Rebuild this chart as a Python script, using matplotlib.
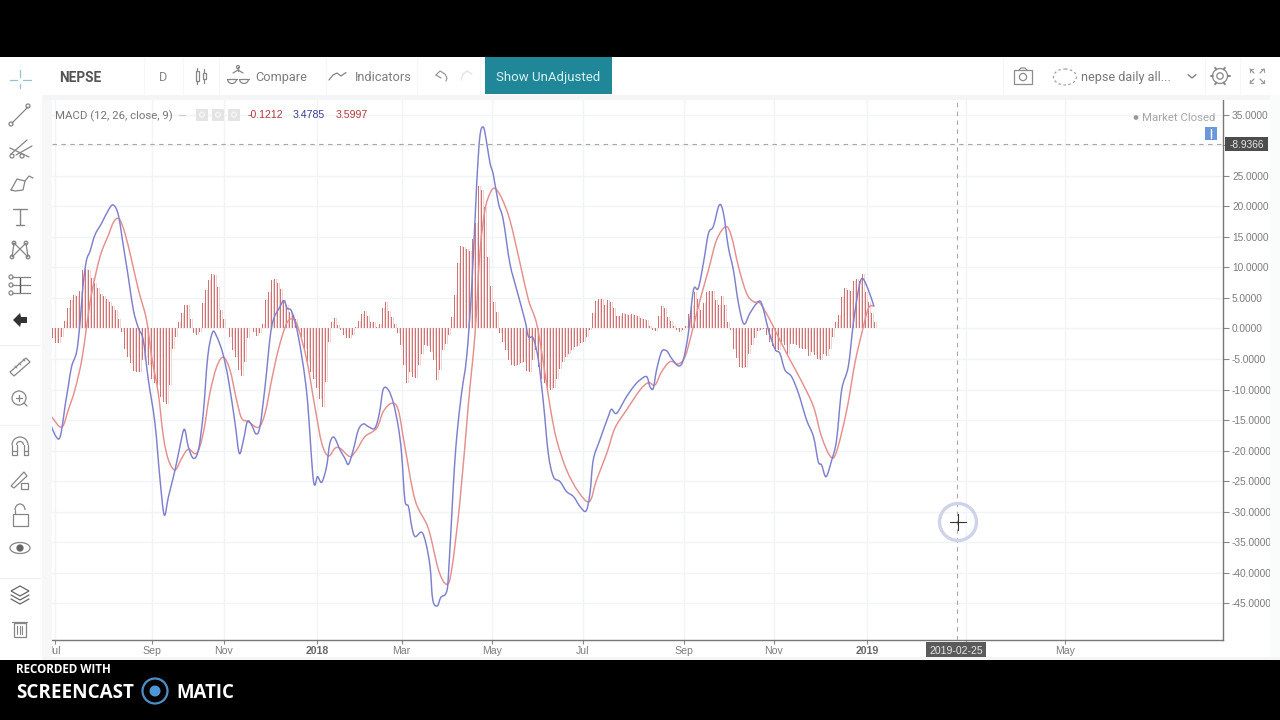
import numpy as np
import matplotlib
matplotlib.use("Agg")
from matplotlib import pyplot as plt
from matplotlib.patches import Circle, Rectangle, Polygon, Ellipse, Arc, PathPatch
from matplotlib.path import Path

# one x unit is one trading session on the chart
hist_vals = [
    -1.5, -2.3, -2.3, -1.4, 1.3, 3.4, 4.6, 5.5, 5.4, 6.2,
    9.6, 9.7, 9.6, 8.2, 7.4, 6.6, 5.7, 5.3, 4.9, 4.4,
    3.6, 3.0, 1.6, -0.5, -3.3, -4.6, -5.7, -7.0, -7.2, -7.1,
    -5.2, -4.9, -6.0, -8.2, -9.0, -9.3, -11.2, -12.0, -12.4, -9.3,
    -3.3, -1.4, 1.1, 2.6, 3.8, 3.8, 1.6, -0.8, -1.1, -0.5,
    4.1, 6.3, 7.9, 8.9, 8.7, 6.8, 3.0, 1.6, 0.0,
    -1.4, -3.6, -4.6, -6.8, -7.8, -5.5, -1.6, 0.0, -0.5, -1.2,
    -0.7, 0.8, 4.6, 6.0, 7.9, 8.1, 7.4, 6.4, 4.6, 3.8,
    2.7, 2.2, 1.5, -0.3, -1.4, -3.3, -5.5, -7.1, -8.2, -9.8,
    -11.5, -12.8, -8.7, -2.2,
    1.1, 1.7, 0.5, -0.3, -1.0, -1.5, -1.6, -1.0, 0.2, 1.2,
    2.3, 2.8, 2.1, 1.1, 1.0, 0.3, 0.8, 3.4, 4.4, 2.8,
    1.9, 0.8, -0.8, -2.7, -6.0, -9.0, -7.1, -7.9, -8.1, -6.0,
    -4.1, -2.7, -2.8, -3.9, -5.2, -8.5, -6.8, -3.6, -2.5, -1.1,
    1.9, 5.5, 10.7, 13.5, 13.4, 13.0, 12.7, 14.6, 17.2, 23.4,
    22.6, 19.9, 11.7, 7.0, 4.4, 2.7, -0.8, -2.2, -3.6, -5.2,
    -5.9, -6.1, -5.9, -5.7, -5.5, -7.0, -7.1, -5.2, -3.6, -6.3,
    -8.2, -9.0, -9.8, -10.1, -9.7, -8.2, -6.6, -5.5, -4.6, -4.1,
    -3.6, -3.0, -2.8, -2.3, -2.2, -1.4, -0.3, 2.5, 4.5, 4.9,
    4.9, 3.9, 4.6, 4.4, 3.3, 2.1, 2.1, 2.6, 2.4, 2.2,
    2.3, 2.2, 2.0, 1.7, 1.5, 1.4, 0.4, -0.3, -0.4, 2.1,
    3.6, 3.4, 1.9, 1.2, 0.4, -0.3, -0.5, -0.2, 0.4, 2.3,
    3.8, 6.0, 4.8, 3.0, 4.1, 6.0, 6.2, 6.2, 4.6, 3.8,
    5.3, 3.9, 1.1, -0.3, -3.3, -4.9, -6.3, -6.4, -6.3, -4.1,
    -2.7, -1.5, -0.4, -0.2, -0.1, -1.1, -2.2, -2.8, -3.4, -3.6,
    -2.2, -2.7, -4.1, -2.5, -2.6, -2.7, -3.2, -3.4, -3.4, -4.5,
    -3.9, -4.3, -5.0, -5.2, -4.1, -4.5, -3.3, -1.4, 1.0, 2.2,
    5.2, 6.6, 6.3, 6.1, 7.8, 8.1, 7.7, 9.0, 5.9, 4.3,
    2.5, 1.1,
]

macd_x = [
    -0.6, 0.8, 2.1, 3.0, 4.1, 5.2, 6.3, 8.0, 9.1, 10.2, 11.3, 12.4, 14.1, 16.3, 18.6, 20.2,
    21.9, 23.6, 25.2, 26.9, 28.6, 30.2, 31.9, 34.1, 35.8, 37.2, 38.6, 40.8, 42.4, 43.9, 45.2,
    46.9, 48.6, 50.2, 51.7, 53.3, 54.7, 56.7, 58.6, 60.8, 62.2, 63.6, 64.9, 66.3, 67.8, 69.1,
    70.8, 73.0, 75.8, 77.1, 78.2, 79.7, 81.9, 84.7, 86.9, 88.3, 89.7, 91.3, 92.4, 93.8,
    95.8, 97.4, 98.6, 100.2, 101.9, 103.6, 105.2, 107.4, 108.9, 110.2, 111.9, 113.6, 115.2,
    116.3, 117.4, 118.6, 119.7, 120.8, 123.0, 124.4, 125.8, 126.7, 128.2, 129.4, 131.1, 131.9,
    133.6, 134.7, 136.3, 138.0, 139.7, 141.3, 142.4, 143.6, 144.7, 145.8, 146.9, 148.6, 150.2,
    152.4, 154.7, 157.4, 158.6, 160.2, 161.9, 163.6, 165.2, 166.9, 169.1, 171.3, 173.6, 175.8,
    177.8, 179.1, 180.2, 182.4, 185.2, 186.3, 188.0, 191.3, 194.1,
    195.8, 198.0, 199.1, 200.2, 201.3, 203.0, 204.7, 206.3, 208.6, 210.2, 211.9, 213.6, 215.2,
    216.9, 218.6, 220.2, 222.2, 223.6, 225.2, 226.9, 228.6, 230.4, 232.4, 234.7, 236.3, 238.6,
    240.8, 242.4, 244.1, 246.3, 248.6, 251.3, 253.6, 255.2, 256.3, 257.8, 259.7, 261.3, 263.0,
    265.2, 266.9, 268.6, 269.9, 271.9, 273.8,
]
macd_y = [
    -15.8, -17.44, -18.09, -16.62, -12.8, -9.52, -6.25, -3.79, 0.85, 7.4, 11.22, 12.58, 15.32, 17.22, 19.41, 20.23,
    18.59, 13.4, 8.49, 3.03, 0.03, -1.88, -8.43, -15.53, -24.81, -30.54, -27.54, -23.17, -19.35, -16.51, -19.35,
    -21.26, -19.89, -13.89, -4.61, -0.63, -1.34, -4.06, -8.43, -15.53, -20.44, -18.26, -15.25, -15.8, -17.27, -16.07,
    -9.52, 0.3, 3.58, 4.56, 3.3, 2.76, -1.34, -10.61, -24.81, -24.26, -25.19, -22.62, -18.8, -17.82,
    -19.89, -21.25, -22.24, -19.89, -16.61, -15.63, -16.07, -16.34, -13.88, -9.95, -10.06, -12.25, -16.07,
    -20.44, -28.08, -29.17, -32.44, -34.08, -33.37, -35.17, -38.99, -44.45, -45.44, -44.02, -43.36, -40.63,
    -25.35, -17.71, -10.61, -4.61, 6.86, 23.23, 31.42, 32.95, 30.33, 27.05, 25.15, 20.5, 17.77,
    10.68, 6.31, 1.4, -1.33, -1.6, -5.15, -12.25, -20.44, -24.26, -25.07, -26.71, -27.53, -29.17,
    -29.88, -26.99, -21.53, -18.25, -14.43, -13.23, -13.88, -11.16, -9.25,
    -8.43, -7.89, -9.52, -9.8, -6.8, -3.79, -3.69, -4.89, -6.14, -5.16, -0.79, 6.3, 6.58,
    10.67, 15.58, 16.68, 20.22, 18.86, 13.4, 9.58, 4.12, 0.74, 2.48, 4.12, 4.12, -0.25,
    -3.41, -4.07, -6.8, -7.89, -10.62, -14.98, -17.71, -21.81, -22.35, -24.26, -21.53, -18.26, -10.07,
    -6.25, 0.85, 6.3, 8.21, 6.3, 3.58,
]

signal_x = [
    -0.6, 3.0, 5.2, 7.4, 9.7, 11.3, 13.0, 15.8, 18.6, 20.4, 22.2, 24.1, 26.3, 28.6, 31.3, 33.0,
    35.2, 36.9, 38.6, 40.8, 43.0, 45.2, 48.0, 50.2, 52.4, 54.7, 56.9, 59.1, 61.3, 63.0, 65.2,
    68.6, 70.8, 73.0, 75.2, 78.0, 80.2, 81.9, 84.7, 87.4, 89.7, 91.9, 94.1,
    95.8, 99.1, 101.3, 104.1, 108.0, 110.2, 113.0, 115.2, 117.4, 120.8, 125.2, 128.6, 131.3,
    133.0, 135.8, 138.6, 140.8, 142.4, 144.1, 145.8, 147.4, 149.7, 152.4, 155.8, 158.6, 161.3,
    163.6, 165.8, 168.0, 171.3, 175.2, 178.9, 181.3, 184.7, 187.4, 191.3, 195.8,
    198.6, 200.8, 203.0, 205.8, 208.6, 210.8, 213.0, 215.8, 218.6, 221.3, 224.4, 226.3, 228.6,
    231.3, 233.6, 235.8, 239.1, 242.4, 245.8, 249.7, 253.6, 256.3, 259.3, 261.3, 264.7, 267.4,
    269.7, 271.9, 273.8,
]
signal_y = [
    -14.33, -16.18, -13.34, -10.07, -5.16, 0.3, 5.76, 11.77, 15.32, 17.5, 17.93, 15.59, 11.22, 6.31, 1.39, -4.61,
    -10.61, -17.71, -21.53, -23.17, -21.26, -19.78, -20.44, -17.16, -10.61, -6.25, -4.72, -6.79, -11.71, -14.71, -15.25,
    -16.18, -13.89, -8.43, -3.52, 0.85, 1.5, 0.03, -5.16, -12.8, -18.8, -20.88, -19.62,
    -19.62, -20.98, -19.89, -17.71, -16.34, -13.61, -12.25, -13.34, -19.34, -28.08, -32.72, -39.54, -41.89,
    -39.54, -28.08, -12.25, -0.78, 12.32, 19.41, 22.14, 22.96, 21.32, 17.77, 10.68, 4.67, 0.85,
    -5.7, -12.79, -18.25, -23.16, -26.71, -28.35, -24.8, -20.44, -16.34, -13.34, -10.07,
    -8.87, -9.25, -7.07, -5.43, -5.81, -4.61, -0.79, 4.67, 9.58, 14.49, 16.68, 15.04, 10.13,
    5.76, 4.39, 4.12, 1.39, -1.88, -5.16, -8.71, -12.8, -17.71, -20.99, -20.17, -13.35, -5.7,
    -0.79, 3.3, 3.74,
]

# the March tick sits under the crosshair date box, so it carries no text
x_tick_pos = [0.8, 33.0, 57.1, 88.1, 116.3, 146.3, 176.7, 210.3, 240.3, 271.4, 304.4, 337.3]
x_tick_labels = ["Jul", "Sep", "Nov", "2018", "Mar", "May", "Jul", "Sep", "Nov", "2019", "", "May"]
y_tick_vals = [35, 30, 25, 20, 15, 10, 5, 0, -5, -10, -15, -20, -25, -30, -35, -40, -45]

cross_x = 301.4
cross_y = 30.15

TXT = "#7c7c7c"
ICON = "#858585"
UI_FONT = ["Roboto", "DejaVu Sans"]
AXIS_FONT = ["Liberation Sans", "DejaVu Sans"]


def curve_through(xs, ys):
    # bezier path passing through every point, the charting lib draws its lines rounded
    pts = np.column_stack([xs, ys])
    tang = np.gradient(pts, axis=0) / 3.0
    verts = [pts[0]]
    codes = [Path.MOVETO]
    for i in range(len(pts) - 1):
        verts += [pts[i] + tang[i], pts[i + 1] - tang[i + 1], pts[i + 1]]
        codes += [Path.CURVE4, Path.CURVE4, Path.CURVE4]
    return Path(verts, codes)


fig = plt.figure(figsize=(12.8, 7.2), dpi=100, facecolor="white")

# price pane, placed on the pixel grid of the figure
ax = fig.add_axes([52 / 1280, 80 / 720, 1171 / 1280, 540 / 720], zorder=1)
ax.set_xlim(-0.22, 390.11)
ax.set_ylim(-51.02, 37.42)

ax.bar(np.arange(len(hist_vals)), hist_vals, width=0.42, color="#cf7474", linewidth=0, zorder=3)
ax.bar(np.arange(len(hist_vals)) + 0.5, hist_vals, width=0.4, color="#f1d5d5", linewidth=0, zorder=2)
ax.add_patch(PathPatch(curve_through(signal_x, signal_y), fill=False, edgecolor="#e58f8f", linewidth=1.05, zorder=4))
ax.add_patch(PathPatch(curve_through(macd_x, macd_y), fill=False, edgecolor="#7f80cc", linewidth=1.05, zorder=5))

ax.set_yticks(y_tick_vals)
ax.set_yticklabels(["" if v == 30 else f"{v:.4f}" for v in y_tick_vals],
                   fontsize=7.3, color=TXT, family=AXIS_FONT)
ax.set_xticks(x_tick_pos)
ax.set_xticklabels(x_tick_labels, fontsize=7.6, color=TXT, family=AXIS_FONT)
for lab in ax.get_xticklabels():
    if lab.get_text() in ("2018", "2019"):
        lab.set_fontweight("bold")
        lab.set_color("#666666")
ax.yaxis.tick_right()
ax.tick_params(axis="y", length=4, width=0.8, color="#888888", pad=2.5)
ax.tick_params(axis="x", length=3, width=0.8, color="#888888", pad=1.2)
ax.grid(True, color="#f1f4f7", linewidth=1.0, zorder=0)
ax.set_axisbelow(True)
for side in ("left", "top"):
    ax.spines[side].set_visible(False)
for side in ("right", "bottom"):
    ax.spines[side].set_color("#777777")
    ax.spines[side].set_linewidth(1.0)

# crosshair
ax.axvline(cross_x, color="#a8a8a8", linewidth=0.8, dashes=(4, 4), zorder=6)
ax.axhline(cross_y, color="#a8a8a8", linewidth=0.8, dashes=(4, 4), zorder=6)

# chrome and toolbars live in a full-figure axes measured in pixels
ui = fig.add_axes([0, 0, 1, 1], zorder=2)
ui.set_xlim(0, 1280)
ui.set_ylim(720, 0)
ui.axis("off")
ui.patch.set_alpha(0)


def rect(x0, y0, x1, y1, color, z=1, **kw):
    ui.add_patch(Rectangle((x0, y0), x1 - x0, y1 - y0, facecolor=color, edgecolor="none", zorder=z, **kw))


def line(xs, ys, color=ICON, lw=0.9, z=3, **kw):
    ui.plot(xs, ys, color=color, linewidth=lw, zorder=z, solid_capstyle="round", **kw)


def ring(x, y, r, color=ICON, lw=0.9, z=3, fc="none"):
    ui.add_patch(Circle((x, y), r, facecolor=fc, edgecolor=color, linewidth=lw, zorder=z))


def label(x, y, s, size=9.2, color=TXT, ha="left", weight="normal", family=UI_FONT, z=4):
    ui.text(x, y, s, fontsize=size, color=color, ha=ha, va="center_baseline", fontweight=weight,
            family=family, zorder=z)


# recording bands and pane margins
rect(0, 0, 1280, 57, "black", z=5)
rect(0, 660, 1280, 720, "black", z=5)
rect(0, 57, 42, 660, "white")
rect(42, 57, 52, 660, "#f5f7f8")
rect(42, 57, 1280, 95, "white")
rect(42, 95, 1280, 100, "#f3f5f6")
rect(1270, 95, 1280, 660, "#fafbfb")
rect(42, 657, 1280, 660, "#f3f5f6")
line([0, 40], [345, 345], color="#eeeeee", lw=0.8)
line([0, 40], [578, 578], color="#eeeeee", lw=0.8)
line([0, 40], [425, 425], color="#f4f4f4", lw=0.8)
for sep_x in (144, 183, 219, 326, 417, 480, 1003, 1205, 1240):
    line([sep_x, sep_x], [58, 94], color="#f6f7f8", lw=0.8)

# top toolbar
label(59, 76, "NEPSE", size=9.8, color="#555555", weight="bold")
label(163.5, 76, "D", size=9.2, ha="center", color="#888888")
ui.add_patch(Rectangle((195.5, 71), 3.5, 10, fill=False, edgecolor=ICON, linewidth=0.9, zorder=3))
ui.add_patch(Rectangle((202.5, 73), 3.5, 6, fill=False, edgecolor=ICON, linewidth=0.9, zorder=3))
line([197.2, 197.2], [68, 71])
line([197.2, 197.2], [81, 84])
line([204.2, 204.2], [69, 73])
line([204.2, 204.2], [79, 83])
line([233, 238, 243], [73, 70, 73])
line([238, 238], [67, 71])
ring(238, 67, 1.5)
ui.add_patch(Arc((232, 79), 9, 9, theta1=0, theta2=180, edgecolor=ICON, linewidth=0.9, zorder=3))
ui.add_patch(Arc((244, 79), 9, 9, theta1=0, theta2=180, edgecolor=ICON, linewidth=0.9, zorder=3))
line([227.5, 236.5], [79, 79])
line([239.5, 248.5], [79, 79])
label(255, 76, "Compare", size=9.2)
line([329, 333, 337, 341, 346], [80, 75, 73, 76, 72.5])
label(355, 76, "Indicators", size=9.2)
line([436, 440, 445, 447, 446], [75, 71, 74, 78, 81], color="#999999")
line([436, 441], [75, 78], color="#999999")
line([472, 467, 463, 461], [74, 71, 74, 80], color="#e2e2e2")
rect(485, 57, 612, 94, "#1f8798")
label(548.5, 76, "Show UnAdjusted", size=9.5, color="#d9f0f3", ha="center")

# right-hand toolbar
ui.add_patch(Rectangle((1014, 70), 18, 14, fill=False, edgecolor="#8c8c8c", linewidth=0.9, zorder=3))
ring(1023, 77, 3.6, color="#8c8c8c")
line([1019, 1021, 1025, 1027], [70, 68, 68, 70], color="#8c8c8c")
ui.add_patch(Ellipse((1065, 77), 23, 16, fill=False, edgecolor="#a0a0a0", linewidth=0.9,
                     linestyle=(0, (2, 2)), zorder=3))
label(1081, 76, "nepse daily all...", size=9.1, color="#777777")
line([1188, 1192, 1196], [74.5, 78, 74.5], color="#777777")
ring(1220, 76, 3.2, color="#858585", lw=0.9)
ring(1220, 76, 7.5, color="#858585", lw=0.9)
for a in np.deg2rad(np.arange(0, 360, 60)):
    line([1220 + 7.5 * np.cos(a), 1220 + 9.5 * np.cos(a)], [76 + 7.5 * np.sin(a), 76 + 9.5 * np.sin(a)],
         color="#858585", lw=1.4)
for sx, sy in ((-1, -1), (1, -1), (-1, 1), (1, 1)):
    cx, cy = 1257 + 5 * sx, 76 + 5 * sy
    line([cx + 2 * sx, cx - 2 * sx], [cy + 2 * sy, cy - 2 * sy], color="#9a9a9a")
    line([cx + 2 * sx, cx + 2 * sx, cx - 1 * sx], [cy - 1 * sy, cy + 2 * sy, cy + 2 * sy], color="#9a9a9a", lw=0.8)

# left toolbar
TEAL = "#8fc3cf"
line([10, 17], [80, 80], color=TEAL)
line([23, 31], [80, 80], color=TEAL)
line([20, 20], [70, 77], color=TEAL)
line([20, 20], [84, 88], color=TEAL)
line([12, 28], [123, 107])
ring(11, 124, 2)
ring(28, 106, 2)
line([11, 27], [154, 140])
line([16, 32], [155, 146])
line([10, 29], [148, 157])
ring(12, 156, 2)
ring(22, 156, 2)
line([11, 17, 25, 23, 15, 11], [190, 179, 181, 190, 191, 190])
line([25, 29, 33], [181, 176, 178])
line([13, 27], [209, 209], lw=1.0)
line([20, 20], [209, 225], lw=1.0)
line([16, 24], [225, 225], lw=1.0)
line([14, 12, 20, 28, 26, 20, 14], [243, 257, 249, 257, 243, 249, 243])
for px, py in ((14, 243), (26, 243), (12, 257), (28, 257)):
    ring(px, py, 1.8)
for sy in (277, 285, 293):
    line([12, 30], [sy, sy])
    ring(11, sy, 2)
line([20, 20], [278, 292], lw=1.0, color="#555555")
ui.add_patch(Polygon([[13, 320], [20, 313], [21, 317], [27, 317], [27, 323], [21, 323], [20, 327]],
                     facecolor="#333333", edgecolor="none", zorder=3))
ui.add_patch(Polygon([[10, 372], [26, 358], [30, 362], [14, 376]], fill=False, edgecolor=ICON, linewidth=0.9,
                     zorder=3))
for tx, ty in ((15, 366), (19, 363), (23, 359)):
    line([tx, tx + 2], [ty, ty + 2], lw=0.7)
ring(19, 398, 7)
line([24, 27], [403, 406])
line([16, 22], [398, 398])
line([19, 19], [395, 401])
# magnet
ui.add_patch(Arc((20, 445), 16, 16, theta1=180, theta2=360, edgecolor=ICON, linewidth=0.9, zorder=3))
ui.add_patch(Arc((20, 445), 7, 7, theta1=180, theta2=360, edgecolor=ICON, linewidth=0.9, zorder=3))
line([12, 12, 16.5, 16.5], [445, 455, 455, 445])
line([28, 28, 23.5, 23.5], [445, 455, 455, 445])
line([12, 16.5], [451, 451])
line([23.5, 28], [451, 451])
ui.add_patch(Polygon([[11, 486], [24, 472], [27, 476], [14, 488]], fill=False, edgecolor=ICON, linewidth=0.9,
                     zorder=3))
ui.add_patch(Rectangle((21, 483), 7, 6, fill=False, edgecolor=ICON, linewidth=0.9, zorder=3))
ui.add_patch(Rectangle((12.5, 514), 15, 12, fill=False, edgecolor=ICON, linewidth=0.9, zorder=3))
ui.add_patch(Arc((20, 510), 10, 12, theta1=180, theta2=360, edgecolor=ICON, linewidth=0.9, zorder=3))
line([15, 15], [510, 514])
ui.add_patch(Ellipse((20, 548), 20, 11, fill=False, edgecolor=ICON, linewidth=0.9, zorder=3))
ring(20, 548, 3, color="#666666", fc="#666666")
ui.add_patch(Polygon([[11, 591], [20, 586], [29, 591], [20, 596]], fill=False, edgecolor="#666666", linewidth=0.9,
                     zorder=3))
line([11, 20, 29], [595, 600, 595], color="#666666")
line([11, 20, 29], [599, 604, 599], color="#666666")
ui.add_patch(Rectangle((13.5, 623), 12, 14, fill=False, edgecolor=ICON, linewidth=0.9, zorder=3))
line([12, 27], [622, 622])
for tx in (17, 19.5, 22):
    line([tx, tx], [626, 634], lw=0.8)

# legend over the pane
label(55, 114.5, "MACD (12, 26, close, 9)", size=8.2, color="#777777")
line([179, 185], [114.5, 114.5], color="#cccccc", lw=0.8)
for bx in (202, 218, 234):
    rect(bx - 6, 109, bx + 6, 120.5, "#e4e4e4", z=3)
    ring(bx, 114.7, 2.4, color="#f5f5f5", lw=1.0, z=4)
label(248, 114.5, "-0.1212", size=7.6, color="#b33a3a", family=AXIS_FONT)
label(293, 114.5, "3.4785", size=7.6, color="#3b3b96", family=AXIS_FONT)
label(336, 114.5, "3.5997", size=7.6, color="#b33a3a", family=AXIS_FONT)

ring(1136, 117.5, 2.4, color="#999999", fc="#999999", lw=0)
label(1142, 117, "Market Closed", size=8.2, color="#a6a6a6")
rect(1205, 127, 1217, 140, "#6b97dc", z=3)
line([1211, 1211], [129, 138], color="white", lw=1.0, z=4)

# crosshair read-outs
rect(1225, 137, 1268, 151, "#4d4d4d", z=3)
label(1247, 144, "-8.9366", size=7.3, color="#e6e6e6", ha="center", family=AXIS_FONT)
rect(926, 642, 986, 657, "#5a5a5a", z=3)
label(956, 649.5, "2019-02-25", size=7.6, color="#e6e6e6", ha="center", family=AXIS_FONT)

# mouse pointer highlight
ring(958, 522, 18.5, color="#cfd3ea", lw=2.4)
line([950, 966], [522, 522], color="#333333", lw=0.8)
line([958, 958], [514, 530], color="#333333", lw=0.8)

# recorder watermark
WM_FONT = ["Open Sans", "DejaVu Sans"]
label(16, 668, "RECORDED WITH", size=8.4, color="white", weight="bold", family=WM_FONT, z=6)
label(16, 691, "SCREENCAST", size=13.6, color="white", weight="bold", family=WM_FONT, z=6)
label(176, 691, "MATIC", size=13.4, color="white", weight="bold", family=WM_FONT, z=6)
ring(155, 691, 12.5, color="#4d8fc4", lw=1.6, z=6)
ring(155, 691, 5.5, color="#4d97d6", fc="#4d97d6", lw=0, z=6)

fig.savefig("out.png", dpi=100)
plt.close(fig)
